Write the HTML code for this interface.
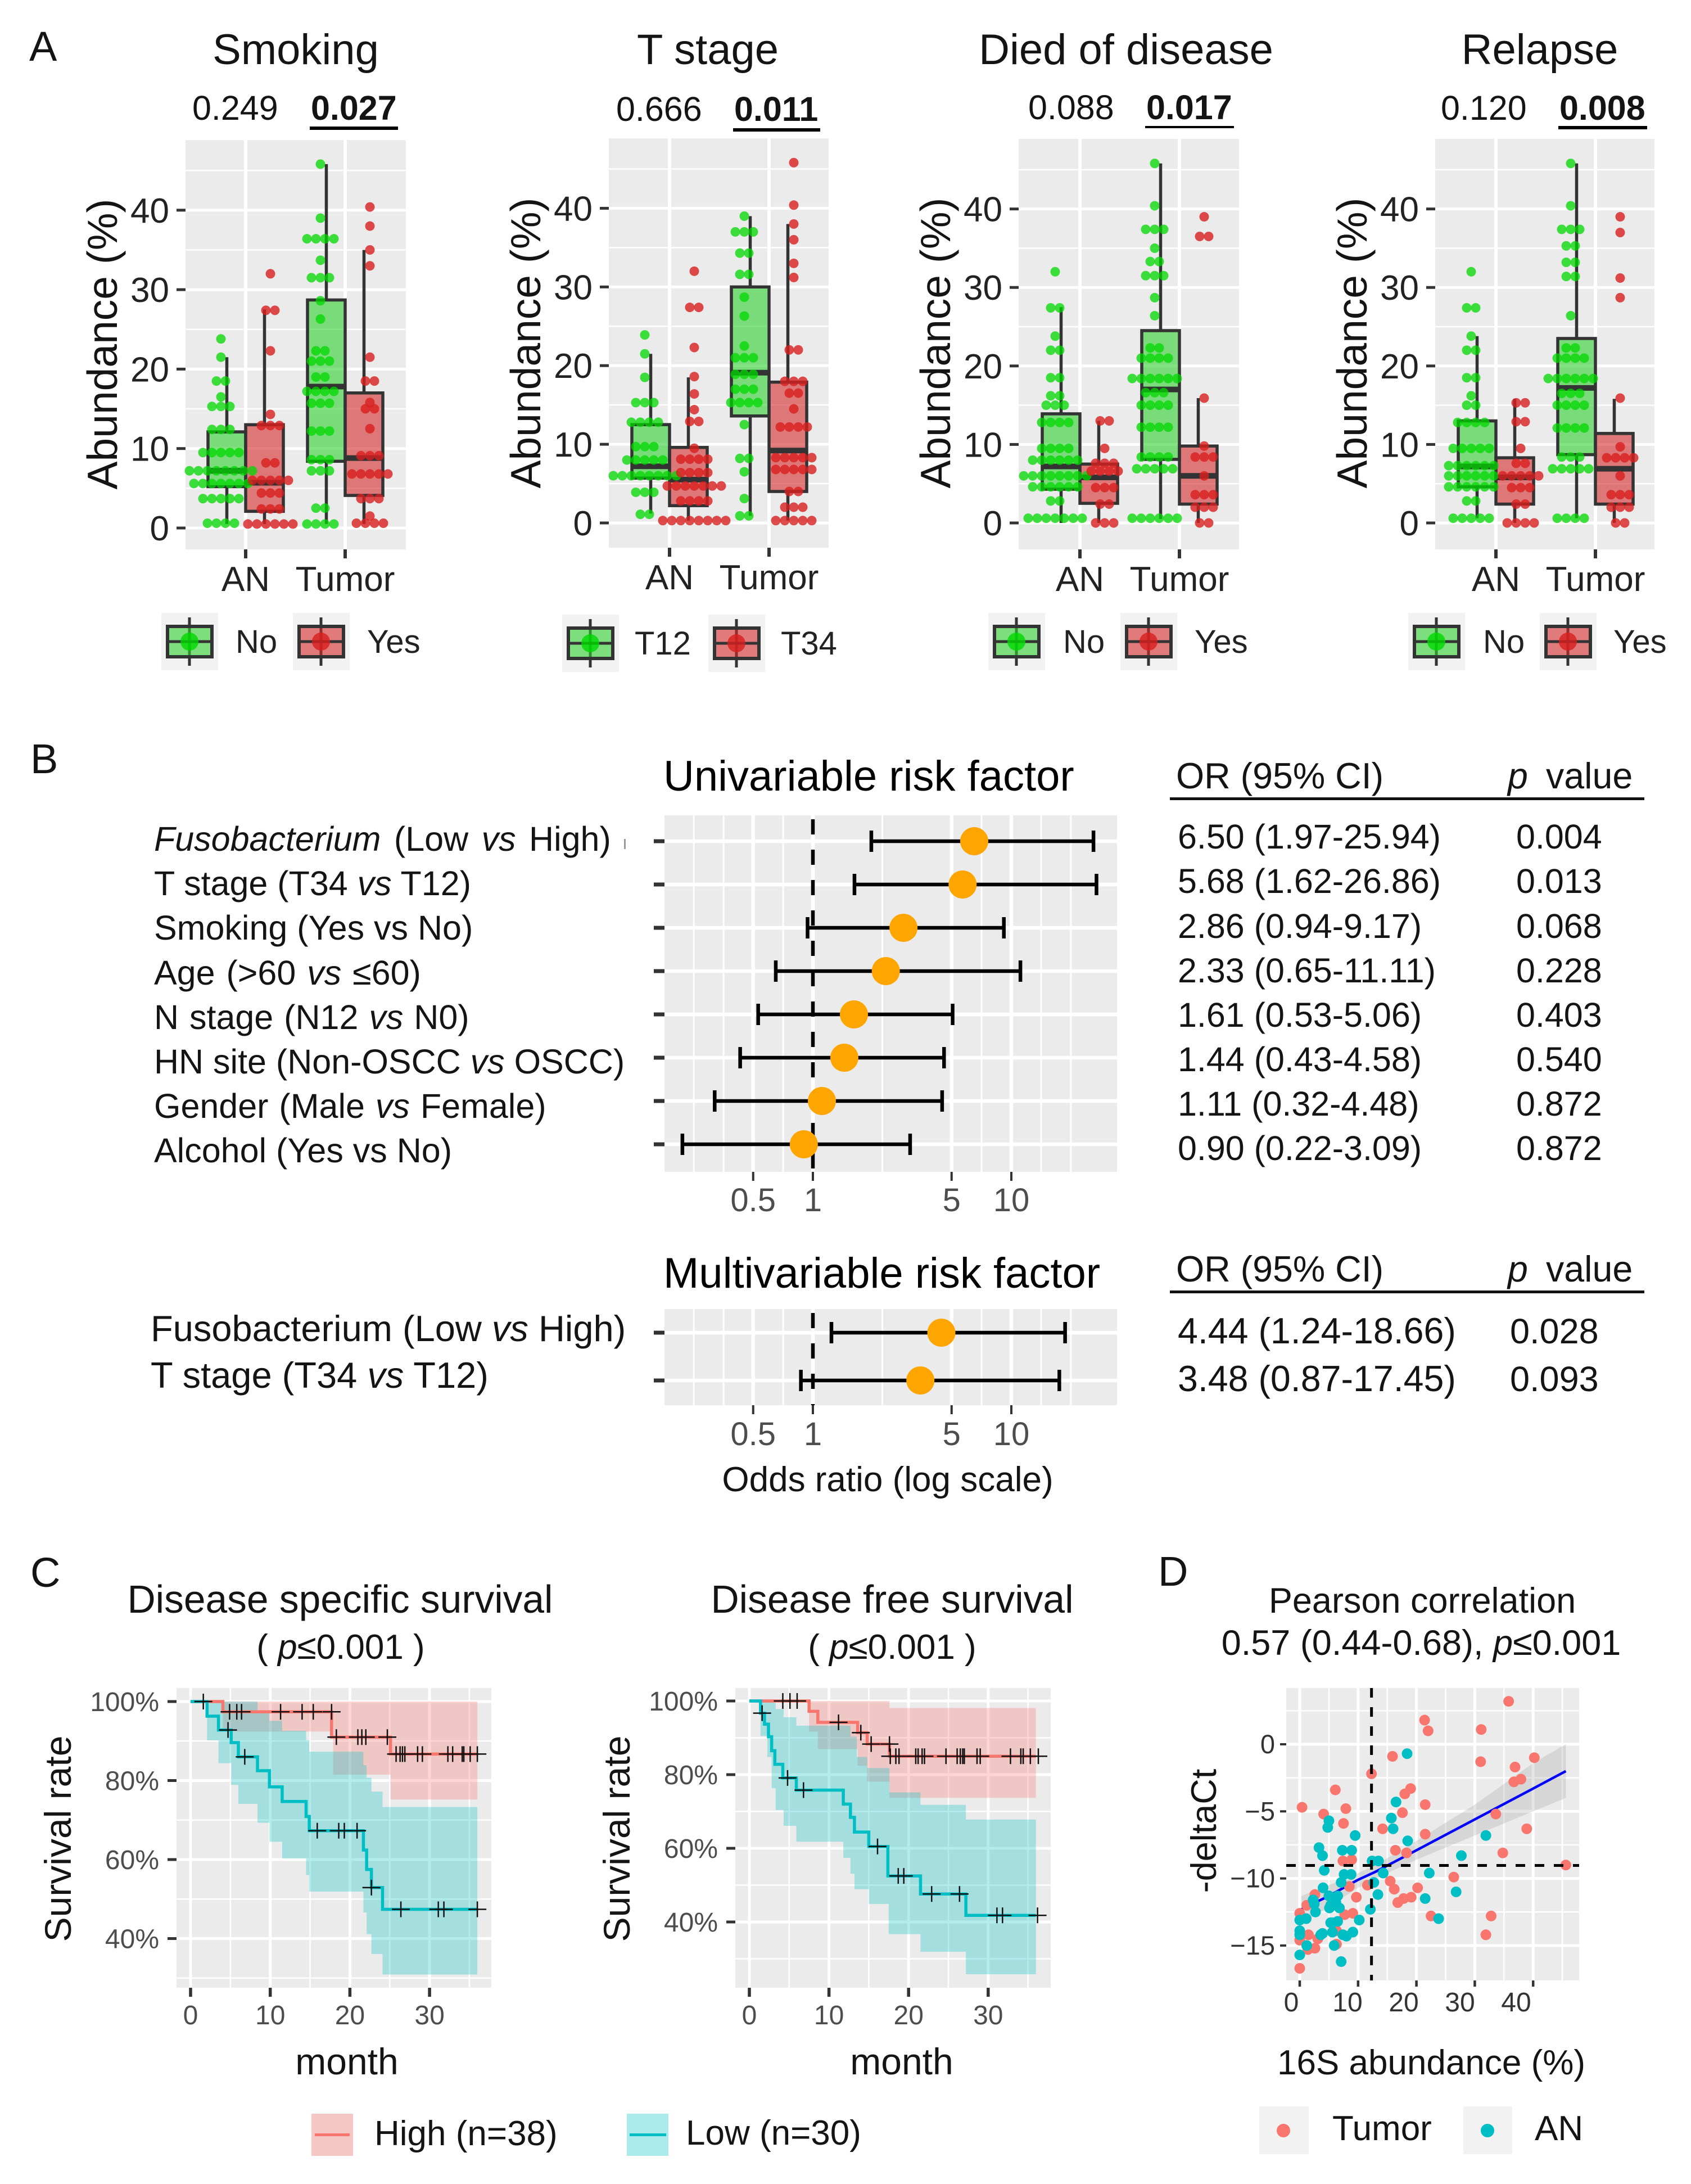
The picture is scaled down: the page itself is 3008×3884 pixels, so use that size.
<!DOCTYPE html>
<html lang="en">
<head>
<meta charset="utf-8">
<title>Fusobacterium abundance figure</title>
<style>
html,body{margin:0;padding:0;background:#fff;width:3008px;height:3884px;overflow:hidden}
svg{display:block}
text{font-family:"Liberation Sans",sans-serif;fill:#141414}
.pl{font-size:74px}
.t{font-size:76px;text-anchor:middle}
.pv{font-size:61px}
.b{font-weight:bold}
.lg{font-size:58px;fill:#222}
.f1{font-size:61px}
.f2{font-size:65px}
.h{font-size:76px;fill:#000}
.ci{font-size:62px}
.hd{font-size:64.5px}
.c{text-anchor:middle}
.km{font-size:69.5px;text-anchor:middle}
.ax{font-size:66px;text-anchor:middle}
.d{font-size:62px;text-anchor:middle}
.d2{font-size:63px;text-anchor:middle}
.it{font-style:italic}
</style>
</head>
<body>
<svg id="fig" xmlns="http://www.w3.org/2000/svg" width="3008" height="3884" viewBox="0 0 3008 3884">
<rect width="3008" height="3884" fill="#fff"/>

<text class="pl" x="52" y="108">A</text>
<text class="pl" x="54" y="1375">B</text>
<text class="pl" x="54" y="2822">C</text>
<text class="pl" x="2060" y="2820">D</text>

<text class="t" x="526" y="114">Smoking</text>
<text class="t" x="1259" y="114">T stage</text>
<text class="t" x="2003" y="114">Died of disease</text>
<text class="t" x="2739" y="114">Relapse</text>

<text class="pv" x="342" y="213">0.249</text>
<text class="pv b" x="553" y="213">0.027</text>
<rect x="551" y="225" width="157" height="6" fill="#000"/>
<text class="pv" x="1096" y="215">0.666</text>
<text class="pv b" x="1306" y="215">0.011</text>
<rect x="1304" y="228" width="155" height="6" fill="#000"/>
<text class="pv" x="1829" y="212">0.088</text>
<text class="pv b" x="2039" y="212">0.017</text>
<rect x="2037" y="224" width="158" height="4" fill="#000"/>
<text class="pv" x="2563" y="213">0.120</text>
<text class="pv b" x="2774" y="213">0.008</text>
<rect x="2772" y="224" width="158" height="6" fill="#000"/>

<text class="lg" x="419" y="1161">No</text>
<text class="lg" x="653" y="1161">Yes</text>
<text class="lg" x="1129" y="1164">T12</text>
<text class="lg" x="1389" y="1164">T34</text>
<text class="lg" x="1891" y="1161">No</text>
<text class="lg" x="2125" y="1161">Yes</text>
<text class="lg" x="2638" y="1161">No</text>
<text class="lg" x="2870" y="1161">Yes</text>

<text class="h" x="1180" y="1406">Univariable risk factor</text>
<text class="h" x="1180" y="2290">Multivariable risk factor</text>

<g class="f1">
<text class="f1" style="word-spacing:6.5px" x="274" y="1513"><tspan class="it">Fusobacterium</tspan> (Low <tspan class="it">vs</tspan> High)</text>
<text class="f1" x="274" y="1592">T stage (T34 <tspan class="it">vs</tspan> T12)</text>
<text class="f1" x="274" y="1671">Smoking (Yes vs No)</text>
<text class="f1" style="word-spacing:3px" x="274" y="1751">Age (&gt;60 <tspan class="it">vs</tspan> ≤60)</text>
<text class="f1" style="word-spacing:2px" x="274" y="1830">N stage (N12 <tspan class="it">vs</tspan> N0)</text>
<text class="f1" x="274" y="1909">HN site (Non-OSCC <tspan class="it">vs</tspan> OSCC)</text>
<text class="f1" style="word-spacing:2px" x="274" y="1988">Gender (Male <tspan class="it">vs</tspan> Female)</text>
<text class="f1" x="274" y="2067">Alcohol (Yes vs No)</text>
</g>
<rect x="1110" y="1492" width="3" height="18" fill="#999"/>
<text class="f2" x="268" y="2385">Fusobacterium (Low <tspan class="it">vs</tspan> High)</text>
<text class="f2" x="268" y="2468">T stage (T34 <tspan class="it">vs</tspan> T12)</text>

<text class="hd" x="2092" y="1402">OR (95% CI)</text>
<text class="hd" x="2682" y="1402"><tspan class="it">p</tspan><tspan x="2750">value</tspan></text>
<rect x="2081" y="1418" width="844" height="5" fill="#111"/>
<g>
<text class="f1" x="2095" y="1509">6.50 (1.97-25.94)</text><text class="f1" x="2697" y="1509">0.004</text>
<text class="f1" x="2095" y="1588">5.68 (1.62-26.86)</text><text class="f1" x="2697" y="1588">0.013</text>
<text class="f1" x="2095" y="1668">2.86 (0.94-9.17)</text><text class="f1" x="2697" y="1668">0.068</text>
<text class="f1" x="2095" y="1747">2.33 (0.65-11.11)</text><text class="f1" x="2697" y="1747">0.228</text>
<text class="f1" x="2095" y="1826">1.61 (0.53-5.06)</text><text class="f1" x="2697" y="1826">0.403</text>
<text class="f1" x="2095" y="1905">1.44 (0.43-4.58)</text><text class="f1" x="2697" y="1905">0.540</text>
<text class="f1" x="2095" y="1984">1.11 (0.32-4.48)</text><text class="f1" x="2697" y="1984">0.872</text>
<text class="f1" x="2095" y="2063">0.90 (0.22-3.09)</text><text class="f1" x="2697" y="2063">0.872</text>
</g>
<text class="hd" x="2092" y="2279">OR (95% CI)</text>
<text class="hd" x="2682" y="2279"><tspan class="it">p</tspan><tspan x="2750">value</tspan></text>
<rect x="2081" y="2295" width="844" height="5" fill="#111"/>
<text style="font-size:64.5px" x="2095" y="2389">4.44 (1.24-18.66)</text><text style="font-size:63px" x="2686" y="2389">0.028</text>
<text style="font-size:64.5px" x="2095" y="2474">3.48 (0.87-17.45)</text><text style="font-size:63px" x="2686" y="2474">0.093</text>
<text class="ci c" x="1579" y="2652">Odds ratio (log scale)</text>

<text class="km" x="605" y="2868">Disease specific survival</text>
<text class="d" x="606" y="2950">( <tspan class="it">p</tspan>≤0.001 )</text>
<text class="km" x="1587" y="2868">Disease free survival</text>
<text class="d" x="1587" y="2950">( <tspan class="it">p</tspan>≤0.001 )</text>
<text class="ax" transform="translate(126 3270) rotate(-90)">Survival rate</text>
<text class="ax" transform="translate(1120 3270) rotate(-90)">Survival rate</text>
<text class="ax" x="617" y="3689">month</text>
<text class="ax" x="1604" y="3689">month</text>

<g>
<rect x="554" y="3759" width="74" height="75" fill="#E8837C" fill-opacity="0.45"/>
<rect x="560" y="3794" width="62" height="5" fill="#F8766D"/>
<text class="ci" x="666" y="3815">High (n=38)</text>
</g>
<g>
<rect x="1115" y="3759" width="74" height="75" fill="#00BFC4" fill-opacity="0.33"/>
<rect x="1120" y="3794" width="65" height="5" fill="#00BFC4"/>
<text class="ci" x="1220" y="3814">Low (n=30)</text>
</g>

<text class="d2" x="2530" y="2868">Pearson correlation</text>
<text class="d2" x="2528" y="2943">0.57 (0.44-0.68), <tspan class="it">p</tspan>≤0.001</text>
<text class="d2" transform="translate(2163 3256) rotate(-90)">-deltaCt</text>
<text class="d" x="2546" y="3689">16S abundance (%)</text>
<g>
<rect x="2240" y="3746" width="88" height="85" fill="#F2F2F2"/>
<circle cx="2283" cy="3789" r="12" fill="#F8766D"/>
<text class="ci" x="2370" y="3806">Tumor</text>
<rect x="2603" y="3746" width="87" height="85" fill="#F2F2F2"/>
<circle cx="2646" cy="3789" r="12" fill="#00BFC4"/>
<text class="ci" x="2730" y="3806">AN</text>
</g>
</svg>

<script>
/* ---------- Panel A data: box stats are [low whisker, q1, median, q3, high whisker]; order AN-1, AN-2, Tumor-1, Tumor-2 ---------- */
const abundanceTicks = [0,10,20,30,40];
const abundanceMinor = [5,15,25,35,45];
const tissueLabels = ['AN','Tumor'];

const smokingBoxes = [[0.5,5.2,7.2,12.1,21.5],[0.5,2.1,5.7,13,27.5],[0.5,8.4,17.8,28.7,45.8],[0.5,4.1,8.8,17,35]];
const smokingAnNoDots = [[23.8,1],[21.5,1],[18.5,2],[16.5,1],[15.3,3],[12.4,3],[9.5,5],[7.2,8],[5.6,7],[3.7,5],[0.6,4]];
const smokingAnYesDots = [[32,1],[27.4,2],[22.3,1],[14.3,1],[12.9,3],[8.2,2],[6,5],[4.4,3],[2.4,3],[0.5,6]];
const smokingTumorNoDots = [[45.8,1],[39,1],[36.4,4],[33.7,1],[31.5,3],[28.6,1],[26.3,1],[22.3,2],[21,3],[19,2],[17.2,4],[15.7,3],[12.2,3],[8.6,3],[7.2,3],[2.5,2],[0.5,4]];
const smokingTumorYesDots = [[40.4,1],[38,1],[35,1],[33,1],[21.5,1],[18.5,2],[15.8,1],[15,2],[12.5,1],[9.1,3],[6.8,5],[3.7,3],[1.5,1],[0.6,4]];

const tStageBoxes = [[1.2,5.7,7.2,12.5,21.5],[0.3,2.2,5.5,9.6,18.5],[0.9,13.6,19.1,30,39],[0.3,4,9.2,17.9,38]];
const tStageAnT12Dots = [[23.9,1],[21.5,1],[18.5,1],[15.3,3],[12.8,4],[9.7,3],[8,5],[6,8],[3.9,3],[1.1,2]];
const tStageAnT34Dots = [[32,1],[27.4,2],[22.3,1],[18.6,1],[16.4,1],[14.4,1],[12.9,2],[9.5,1],[8.1,4],[6.4,4],[4.7,7],[2.8,4],[0.3,8]];
const tStageTumorT12Dots = [[39,1],[37,3],[34.3,2],[31.6,2],[28.7,1],[26.3,1],[22.5,1],[21,3],[18.9,3],[17,3],[15.3,4],[12.5,1],[8.2,2],[6.5,1],[3.1,1],[0.9,2]];
const tStageTumorT34Dots = [[45.8,1],[40.4,1],[38,1],[36,1],[33,1],[31.2,1],[22,2],[18,3],[16.5,2],[14.5,1],[12.2,4],[8.3,5],[6.8,5],[4,2],[2,3],[0.3,5]];

const diedBoxes = [[0,4.3,7.2,13.9,27.5],[0,2.5,5.8,7.5,13],[0.5,8.1,17,24.5,45.8],[0,2.4,6,9.8,15.9]];
const diedAnNoDots = [[32,1],[27.4,2],[23.8,1],[22,2],[18.5,2],[16.2,2],[15,3],[12.8,4],[9.5,4],[8,6],[6,8],[4.6,6],[2.8,2],[0.6,7]];
const diedAnYesDots = [[13,2],[9.5,1],[7.6,3],[6.6,4],[4.5,3],[2.4,2],[0,3]];
const diedTumorNoDots = [[45.8,1],[40.4,1],[37.4,3],[35,1],[33.3,2],[31.5,3],[28.7,1],[26.4,1],[22.3,2],[21,4],[18.4,6],[16.6,3],[15,4],[12.2,4],[8.4,4],[6.9,5],[0.6,6]];
const diedTumorYesDots = [[39,1],[36.5,2],[15.9,1],[9.8,1],[8.4,3],[6,1],[3.6,3],[2,3],[0,2]];

const relapseBoxes = [[0.6,4.6,7.2,13,23.8],[0,2.4,5.8,8.3,15.8],[0.6,8.7,17.2,23.5,45.8],[0,2.4,6.9,11.4,15.8]];
const relapseAnNoDots = [[32,1],[27.4,2],[23.8,1],[22,2],[18.5,2],[16.2,1],[15,2],[12.8,4],[9.5,5],[7.3,6],[6,6],[4.6,6],[2.8,2],[0.6,5]];
const relapseAnYesDots = [[15.3,2],[12.9,2],[9.5,1],[7.6,2],[6,5],[4.5,3],[2.4,2],[0,4]];
const relapseTumorNoDots = [[45.8,1],[40.4,1],[37.4,3],[35.3,2],[33.2,2],[31.4,2],[26.4,1],[22.3,2],[21,4],[18.4,6],[16.5,3],[15,4],[12.1,4],[8.4,3],[6.9,5],[0.6,4]];
const relapseTumorYesDots = [[39,1],[37,1],[31.2,1],[28.7,1],[15.9,1],[9.7,1],[8.3,4],[6,1],[3.6,3],[2,3],[0,2]];

/* ---------- Panel B data ---------- */
const oddsTicks = [0.5,1,5,10];
const oddsMinorLog = [-0.6,-0.45,-0.15,0.35,0.85,1.15,1.3];
const uniOR = [6.5,5.68,2.86,2.33,1.61,1.44,1.11,0.9];
const uniLow = [1.97,1.62,0.94,0.65,0.53,0.43,0.32,0.22];
const uniHigh = [25.94,26.86,9.17,11.11,5.06,4.58,4.48,3.09];
const multiOR = [4.44,3.48];
const multiLow = [1.24,0.87];
const multiHigh = [18.66,17.45];

/* ---------- Panel C data ---------- */
const monthTicks = [0,10,20,30];
const monthMinor = [5,15,25,35];
const survivalTicks = [100,80,60,40];
const survivalMinor = [90,70,50,30];

const dssHighTimes = [0,4.05,17.7,25.1];
const dssHighSurv = [100,97.4,91,86.7];
const dssHighUpperTimes = [4.05];
const dssHighUpper = [100];
const dssHighLowerTimes = [4.05,17.9,25.1];
const dssHighLower = [92.4,81.5,75.2];
const dssHighCensorTimes = [1.6,4.9,5.8,6.4,11.3,14,15.4,17.7,18.3,21,21.5,22,24.7,25.8,26.3,26.6,26.9,28.5,29.1,32.3,32.9,34.1,34.3,35.1,36];
const dssHighCensorSurv = [100,97.4,97.4,97.4,97.4,97.4,97.4,97.4,91,91,91,91,91,86.7,86.7,86.7,86.7,86.7,86.7,86.7,86.7,86.7,86.7,86.7,86.7];
const dssLowTimes = [0,2.07,3.5,5.1,6,8.4,9.9,11.5,14.5,14.9,21.7,22.1,22.7,24.1];
const dssLowSurv = [100,96.3,92.8,89.6,86,82.5,78.4,74.7,70.9,67.3,62.4,57.5,52.9,47.4];
const dssLowUpperTimes = [2.07,8.4,9.9,11.5,14.5,14.9,21.7,22.1,22.7,24.1];
const dssLowUpper = [100,97.4,95.1,92.6,90.2,87.3,83.9,80.7,77.2,73.3];
const dssLowLowerTimes = [2.07,3.5,5.1,6,8.4,9.9,11.5,14.5,14.9,21.7,22.1,22.7,24.1];
const dssLowLower = [90.2,84.4,78.9,74.1,69.3,64.5,60.3,56.1,51.9,46.6,41.1,36.1,30.9];
const dssLowCensorTimes = [4.7,6.8,15.9,18.6,19.3,20.9,22.7,26.4,31.1,31.8,36];
const dssLowCensorSurv = [92.8,86,67.3,67.3,67.3,67.3,52.9,47.4,47.4,47.4,47.4];

const dfsHighTimes = [0,7.5,8.6,13.6,14.8,17.6];
const dfsHighSurv = [100,97.2,94.2,91.4,88.3,85];
const dfsHighUpperTimes = [7.5,17.6];
const dfsHighUpper = [100,98.1];
const dfsHighLowerTimes = [7.5,8.6,13.6,14.8,17.6];
const dfsHighLower = [91.7,86.9,82.4,78.1,73.7];
const dfsHighCensorTimes = [4.2,5.1,6,11.2,14,15.3,17.6,17.7,18.4,18.8,20.9,21.2,21.7,22,24.7,26.1,26.5,26.8,27,28.6,29,32.8,34.1,34.4,35.3,36.3];
const dfsHighCensorSurv = [100,100,100,94.2,91.4,88.3,88.3,85,85,85,85,85,85,85,85,85,85,85,85,85,85,85,85,85,85,85];
const dfsLowTimes = [0,1.4,1.9,2.4,2.8,3.2,4.2,5.9,11.8,12.7,13.2,15,17.4,21.5,27.2];
const dfsLowSurv = [100,96.7,93.7,90.3,86.5,82.8,79.1,75.8,72,68.4,64.4,60.5,52.5,47.6,41.8];
const dfsLowUpperTimes = [1.4,3.3,4.3,5.9,12.7,13.5,14.8,17.6,21.5,27.2];
const dfsLowUpper = [100,97.8,95.6,93.3,90.3,84.8,81.8,75.2,71.8,67.8];
const dfsLowLowerTimes = [1.4,2.25,2.8,3.3,4.3,5.9,11.8,12.7,13.2,15,17.5,21.5,27.2];
const dfsLowLower = [90.5,84.8,76.3,70.4,66.1,61.8,57.4,53.1,48.9,44.9,36.7,31.9,25.8];
const dfsLowCensorTimes = [1.6,4.8,6.8,16.1,18.7,19.4,22.9,26.4,31.1,31.8,36.2];
const dfsLowCensorSurv = [96.7,79.1,75.8,60.5,52.5,52.5,47.6,47.6,41.8,41.8,41.8];

/* ---------- Panel D data ---------- */
const scatterXTicks = [0,10,20,30,40];
const scatterXMinor = [5,15,25,35,45];
const scatterYTicks = [0,-5,-10,-15];
const scatterYTickLabels = ['0','\u22125','\u221210','\u221215'];
const scatterYMinor = [2.5,-2.5,-7.5,-12.5];
const tumorAbundance = [35.8,21.4,22.0,31.1,15.9,40.2,31.0,36.9,12.3,37.9,36.7,19.0,6.1,18.0,7.9,21.5,0.4,17.6,4.1,33.6,7.5,14.2,38.9,21.5,16.4,34.8,18.3,7.4,8.9,45.6,26.4,15.5,11.6,8.5,20.2,16.2,2.6,9.7,19.1,17.8,16.8,1.2,22.5,32.8,9.1,7.7,0,31.9,1.5,3.1,0,6.3,1.4,2.6,0,6.3];
const tumorDeltaCt = [3.2,1.8,1.0,1.1,-0.9,-1.0,-1.3,-1.7,-2.2,-2.6,-2.8,-3.3,-3.4,-3.7,-4.8,-4.5,-4.7,-5.1,-5.2,-5.2,-5.9,-6.3,-6.3,-6.7,-7.9,-8.1,-8.1,-8.7,-8.6,-9.0,-9.9,-10.2,-10.5,-10.6,-10.7,-10.8,-11.2,-11.4,-11.4,-11.5,-11.8,-12.0,-12.8,-12.8,-12.6,-12.7,-12.6,-14.2,-14.2,-14.5,-14.6,-14.9,-15.3,-15.2,-16.7,-13.9];
const anAbundance = [18.4,16.5,15.7,5.0,4.8,16.0,9.5,31.9,18.5,3.3,7.3,8.9,3.9,27.7,13.5,12.4,4.2,14.3,22.2,7.6,8.8,7.1,12.7,4.0,26.8,13.4,5.0,6.5,5.6,21.5,2.3,2.5,5.3,6.2,6.8,5.1,12.1,2.7,23.8,10.2,1.1,0,6.5,5.6,5.3,0,3.9,5.6,9.1,7.4,8.0,3.6,0,5.9,1.2,0,7.1];
const anDeltaCt = [-0.7,-4.3,-5.5,-5.7,-6.2,-6.3,-6.8,-6.8,-7.2,-7.7,-7.9,-7.9,-8.3,-8.3,-8.7,-8.7,-9.4,-9.6,-9.6,-9.7,-9.7,-10.3,-10.3,-10.7,-11.0,-11.2,-11.3,-11.3,-11.5,-11.5,-11.6,-11.9,-12.0,-11.8,-12.2,-12.2,-12.3,-12.5,-13.0,-13.1,-13.0,-13.1,-13.2,-13.3,-13.3,-13.9,-14.1,-14.0,-14.0,-14.2,-14.3,-14.2,-14.2,-15.0,-15.0,-15.7,-16.2];
const fitAbundance = [0.3,5,10,13,20,30,40,45.6];
const fitDeltaCt = [-12.3,-11.3,-10.1,-9.5,-7.9,-5.6,-3.3,-2.0];
const fitUpper = [-11.3,-10.5,-9.6,-9.0,-7.2,-4.5,-1.4,0.0];
const fitLower = [-13.4,-12.1,-10.7,-10.0,-8.6,-6.8,-5.0,-4.0];
const abundanceCutoff = [12.3];
const deltaCtCutoff = [-9.03];

/* ---------- drawing helpers ---------- */
const NS = 'http://www.w3.org/2000/svg';
const fig = document.getElementById('fig');
function mk(tag, attrs, parent) {
  const el = document.createElementNS(NS, tag);
  for (const k in attrs) el.setAttribute(k, attrs[k]);
  parent.appendChild(el);
  return el;
}
function label(parent, x, y, str, size, fill, anchor) {
  const el = mk('text', {x:x, y:y, 'font-size':size, 'text-anchor':anchor, style:'fill:'+fill}, parent);
  el.textContent = str;
  return el;
}
function hline(parent, x1, x2, y, w, c) { return mk('line', {x1:x1, x2:x2, y1:y, y2:y, stroke:c, 'stroke-width':w}, parent); }
function vline(parent, x, y1, y2, w, c) { return mk('line', {x1:x, x2:x, y1:y1, y2:y2, stroke:c, 'stroke-width':w}, parent); }

const BOXGREEN = '#2DD12D', BOXRED = '#D62A2A', DOTGREEN = '#00D800', DOTRED = '#D81E1E', INK = '#333333';

function drawBoxPanel(cfg) {
  const g = mk('g', {}, fig);
  
  
  const y = v => cfg.y0 - v * cfg.unit;
  const bg = mk('rect', {x:cfg.x, y:cfg.top, width:cfg.w, height:cfg.bottom-cfg.top, fill:'#EBEBEB'}, g);
  
  
  abundanceMinor.forEach(v => {
    const l = hline(g, cfg.x, cfg.x+cfg.w, y(v), 2.5, '#fff');
    
    
  });
  abundanceTicks.forEach(v => {
    const l = hline(g, cfg.x, cfg.x+cfg.w, y(v), 5, '#fff');
    
    
    const t = hline(g, cfg.x-16, cfg.x, y(v), 5, INK);
    
    
    const s = label(g, cfg.x-29, y(v)+22, String(v), 62, '#222', 'end');
    
    
  });
  const ticks = [cfg.an, cfg.tumor];
  ticks.forEach((tx, i) => {
    const l = vline(g, tx, cfg.top, cfg.bottom, 6, '#fff');
    
    
    const t = vline(g, tx, cfg.bottom, cfg.bottom+16, 6, INK);
    
    
    const s = label(g, tx, cfg.bottom+74, tissueLabels[i], 62, '#222', 'middle');
    
    
  });
  const yt = label(g, 0, 0, 'Abundance (%)', 75, '#141414', 'middle');
  yt.setAttribute('transform', 'translate(' + (cfg.x-122) + ' ' + (cfg.titleY) + ') rotate(-90)');
  
  

  cfg.boxes.forEach((b, i) => {
    const tx = ticks[i < 2 ? 0 : 1];
    const side = i % 2 === 0 ? -1 : 1;
    const bx = tx + side * 33.5;
    const color = side < 0 ? BOXGREEN : BOXRED;
    const fill = mk('rect', {x:bx-33.5, y:y(b[3]), width:67, height:y(b[1])-y(b[3]), fill:color, 'fill-opacity':0.6}, g);
    
    
    const w1 = vline(g, bx, y(b[4]), y(b[3]), 5.5, INK);
    
    
    const w2 = vline(g, bx, y(b[1]), y(b[0]), 5.5, INK);
    
    
    const o = mk('rect', {x:bx-33.5, y:y(b[3]), width:67, height:y(b[1])-y(b[3]), fill:'none', stroke:INK, 'stroke-width':5.5}, g);
    
    
    const m = hline(g, bx-33.5, bx+33.5, y(b[2]), 10, INK);
    
    
  });
  cfg.boxes.forEach((b, i) => {
    const tx = ticks[i < 2 ? 0 : 1];
    const side = i % 2 === 0 ? -1 : 1;
    const dotX = tx + side * 44;
    const color = side < 0 ? DOTGREEN : DOTRED;
    cfg.dots[i].forEach(row => {
      for (let k = 0; k < row[1]; k++) {
        const c = mk('circle', {cx:dotX + (k-(row[1]-1)/2)*16, cy:y(row[0]), r:8.5, fill:color, 'fill-opacity':side < 0 ? 0.75 : 0.8}, g);
        
        
      }
    });
  });

  cfg.legend.forEach((kx, i) => {
    const ky = cfg.legendY;
    const k = mk('g', {}, g);
    
    
    mk('rect', {x:kx, y:ky-51, width:101, height:102, fill:'#F2F2F2'}, k);
    mk('line', {x1:kx+50, x2:kx+50, y1:ky-43, y2:ky+43, stroke:INK, 'stroke-width':5}, k);
    mk('rect', {x:kx+11, y:ky-27, width:79, height:54, fill:i === 0 ? BOXGREEN : BOXRED, 'fill-opacity':0.6, stroke:INK, 'stroke-width':6}, k);
    mk('line', {x1:kx+11, x2:kx+90, y1:ky, y2:ky, stroke:INK, 'stroke-width':5}, k);
    mk('circle', {cx:kx+50, cy:ky, r:16, fill:i === 0 ? DOTGREEN : DOTRED, 'fill-opacity':0.8}, k);
  });
}

drawBoxPanel({name:'smoking', x:330, w:392, top:249, bottom:977, y0:939, unit:14.13, an:437, tumor:614, titleY:612, legend:[287,521], legendY:1141,
  boxes:smokingBoxes, dots:[smokingAnNoDots,smokingAnYesDots,smokingTumorNoDots,smokingTumorYesDots]});
drawBoxPanel({name:'t-stage', x:1083, w:391, top:246, bottom:974, y0:930, unit:13.99, an:1191, tumor:1368, titleY:610, legend:[1000,1260], legendY:1144,
  boxes:tStageBoxes, dots:[tStageAnT12Dots,tStageAnT34Dots,tStageTumorT12Dots,tStageTumorT34Dots]});
drawBoxPanel({name:'died-of-disease', x:1812, w:392, top:247, bottom:977, y0:930, unit:13.96, an:1921, tumor:2098, titleY:610, legend:[1758,1993], legendY:1141,
  boxes:diedBoxes, dots:[diedAnNoDots,diedAnYesDots,diedTumorNoDots,diedTumorYesDots]});
drawBoxPanel({name:'relapse', x:2553, w:390, top:247, bottom:977, y0:930, unit:13.96, an:2661, tumor:2838, titleY:610, legend:[2505,2739], legendY:1141,
  boxes:relapseBoxes, dots:[relapseAnNoDots,relapseAnYesDots,relapseTumorNoDots,relapseTumorYesDots]});

function drawForest(cfg, or, low, high) {
  const g = mk('g', {}, fig);
  
  
  const x = v => 1446 + 353 * Math.log10(v);
  const xl = v => 1446 + 353 * v;
  const rowY = i => cfg.first + i * cfg.step;
  const bg = mk('rect', {x:1182, y:cfg.top, width:805, height:cfg.bottom-cfg.top, fill:'#EBEBEB'}, g);
  
  
  oddsMinorLog.forEach(v => {
    const l = vline(g, xl(v), cfg.top, cfg.bottom, 3, '#fff');
    
    
  });
  oddsTicks.forEach(v => {
    const l = vline(g, x(v), cfg.top, cfg.bottom, 6.5, '#fff');
    
    
    const t = vline(g, x(v), cfg.bottom, cfg.bottom+16, 4, '#333');
    
    
    const s = label(g, x(v), cfg.labelY, String(v), 58, '#4D4D4D', 'middle');
    
    
  });
  or.forEach((v, i) => {
    const l = hline(g, 1182, 1987, rowY(i), 6.5, '#fff');
    
    
    const t = hline(g, 1163, 1182, rowY(i), 7, '#333');
    
    
  });
  const d = vline(g, x(1), cfg.top+7, cfg.bottom, 6.5, '#000');
  d.setAttribute('stroke-dasharray', '27 27');
  
  
  or.forEach((v, i) => {
    const ci = hline(g, x(low[i]), x(high[i]), rowY(i), 6.5, '#000');
    
    
    const c1 = vline(g, x(low[i]), rowY(i)-19, rowY(i)+19, 6.5, '#000');
    
    
    const c2 = vline(g, x(high[i]), rowY(i)-19, rowY(i)+19, 6.5, '#000');
    
    
    const p = mk('circle', {cx:x(v), cy:rowY(i), r:25, fill:'#FFA500'}, g);
    
    
  });
}
drawForest({name:'univariable', top:1450, bottom:2084, first:1496, step:77, labelY:2154}, uniOR, uniLow, uniHigh);
drawForest({name:'multivariable', top:2328, bottom:2499, first:2370, step:85, labelY:2570}, multiOR, multiLow, multiHigh);

function stepPoints(times, vals, end, x, y) {
  const pts = [];
  times.forEach((t, i) => {
    const next = i + 1 < times.length ? times[i+1] : end;
    pts.push([x(t), y(vals[i])]);
    pts.push([x(next), y(vals[i])]);
  });
  return pts;
}
function drawRibbon(g, upT, up, loT, lo, end, x, y, color, nm) {
  const a = stepPoints(upT, up, end, x, y);
  const b = stepPoints(loT, lo, end, x, y).reverse();
  const r = mk('polygon', {points:a.concat(b).map(p => p.join(',')).join(' '), fill:color, 'fill-opacity':0.3}, g);
  
  
}
function drawCurve(g, times, vals, end, x, y, color, nm) {
  const p = mk('polyline', {points:stepPoints(times, vals, end, x, y).map(q => q.join(',')).join(' '), fill:'none', stroke:color, 'stroke-width':5.5}, g);
  
  
}
function drawCensors(g, times, vals, x, y) {
  times.forEach((t, i) => {
    const h = hline(g, x(t)-16, x(t)+16, y(vals[i]), 2.5, '#111');
    
    
    const v = vline(g, x(t), y(vals[i])-14, y(vals[i])+14, 2.5, '#111');
    
    
  });
}
function drawKM(cfg, d) {
  const g = mk('g', {}, fig);
  
  
  const x = t => cfg.x0 + t * cfg.xu;
  const y = s => cfg.y100 + (100 - s) * cfg.yu;
  const bg = mk('rect', {x:cfg.left, y:3002, width:cfg.w, height:533, fill:'#EBEBEB'}, g);
  
  
  monthMinor.forEach(v => {
    const l = vline(g, x(v), 3002, 3535, 2.5, '#fff');
    
    
  });
  survivalMinor.forEach(v => {
    const l = hline(g, cfg.left, cfg.left+cfg.w, y(v), 2.5, '#fff');
    
    
  });
  monthTicks.forEach(v => {
    const l = vline(g, x(v), 3002, 3535, 5, '#fff');
    
    
    const t = vline(g, x(v), 3535, 3551, 5.5, '#333');
    
    
    const s = label(g, x(v), 3600, String(v), 48, '#4D4D4D', 'middle');
    
    
  });
  survivalTicks.forEach(v => {
    const l = hline(g, cfg.left, cfg.left+cfg.w, y(v), 5, '#fff');
    
    
    const t = hline(g, cfg.left-16, cfg.left, y(v), 5, '#333');
    
    
    const s = label(g, cfg.left-31, y(v)+17, v + '%', 48, '#4D4D4D', 'end');
    
    
  });
  const hi = '#F8766D', lo = '#00BFC4';
  drawRibbon(g, d.hut, d.hu, d.hlt, d.hl, 36, x, y, hi, 'high-confidence-band');
  drawRibbon(g, d.lut, d.lu, d.llt, d.ll, 36, x, y, lo, 'low-confidence-band');
  drawCurve(g, d.ht, d.hs, 36, x, y, hi, 'high-survival-curve');
  drawCurve(g, d.lt, d.ls, 36, x, y, lo, 'low-survival-curve');
  drawCensors(g, d.hct, d.hcs, x, y);
  drawCensors(g, d.lct, d.lcs, x, y);
}
drawKM({name:'disease-specific', left:314, w:560, x0:339, xu:14.17, y100:3026, yu:7.025}, {
  ht:dssHighTimes, hs:dssHighSurv, hut:dssHighUpperTimes, hu:dssHighUpper, hlt:dssHighLowerTimes, hl:dssHighLower, hct:dssHighCensorTimes, hcs:dssHighCensorSurv,
  lt:dssLowTimes, ls:dssLowSurv, lut:dssLowUpperTimes, lu:dssLowUpper, llt:dssLowLowerTimes, ll:dssLowLower, lct:dssLowCensorTimes, lcs:dssLowCensorSurv});
drawKM({name:'disease-free', left:1308, w:561, x0:1333, xu:14.16, y100:3025, yu:6.55}, {
  ht:dfsHighTimes, hs:dfsHighSurv, hut:dfsHighUpperTimes, hu:dfsHighUpper, hlt:dfsHighLowerTimes, hl:dfsHighLower, hct:dfsHighCensorTimes, hcs:dfsHighCensorSurv,
  lt:dfsLowTimes, ls:dfsLowSurv, lut:dfsLowUpperTimes, lu:dfsLowUpper, llt:dfsLowLowerTimes, ll:dfsLowLower, lct:dfsLowCensorTimes, lcs:dfsLowCensorSurv});

(function drawScatter() {
  const g = mk('g', {}, fig);
  
  
  const L = 2288, R = 2809, T = 3002, B = 3522;
  const x = v => 2312 + v * 10.38;
  const y = v => 3102 - v * 23.86;
  const labelX = v => 2297 + v * 10;
  const bg = mk('rect', {x:L, y:T, width:R-L, height:B-T, fill:'#EBEBEB'}, g);
  
  
  scatterXMinor.forEach(v => {
    const l = vline(g, x(v), T, B, 2.5, '#fff');
    
    
  });
  scatterYMinor.forEach(v => {
    const l = hline(g, L, R, y(v), 2.5, '#fff');
    
    
  });
  scatterXTicks.forEach(v => {
    const l = vline(g, x(v), T, B, 5, '#fff');
    
    
    const t = vline(g, x(v), B, B+11, 4.5, '#333');
    
    
    const s = label(g, labelX(v), 3577, String(v), 48, '#333', 'middle');
    
    
  });
  scatterYTicks.forEach((v, i) => {
    const l = hline(g, L, R, y(v), 5, '#fff');
    
    
    const t = hline(g, L-11, L, y(v), 4, '#333');
    
    
    const s = label(g, L-20, y(v)+16, scatterYTickLabels[i], 47, '#333', 'end');
    
    
  });
  const up = fitAbundance.map((v, i) => x(v) + ',' + y(fitUpper[i]));
  const lo = fitAbundance.map((v, i) => x(v) + ',' + y(fitLower[i])).reverse();
  const rib = mk('polygon', {points:up.concat(lo).join(' '), fill:'#999999', 'fill-opacity':0.25}, g);
  
  
  const fit = mk('polyline', {points:fitAbundance.map((v, i) => x(v) + ',' + y(fitDeltaCt[i])).join(' '), fill:'none', stroke:'#0000FF', 'stroke-width':4.5}, g);
  
  
  tumorAbundance.forEach((v, i) => {
    const p = mk('circle', {cx:x(v), cy:y(tumorDeltaCt[i]), r:9.5, fill:'#F8766D'}, g);
    
    
  });
  anAbundance.forEach((v, i) => {
    const p = mk('circle', {cx:x(v), cy:y(anDeltaCt[i]), r:9.5, fill:'#00BFC4'}, g);
    
    
  });
  const dv = vline(g, x(abundanceCutoff[0]), T, B, 5, '#000');
  dv.setAttribute('stroke-dasharray', '17 17');
  
  
  const dh = hline(g, L, R, y(deltaCtCutoff[0]), 5, '#000');
  dh.setAttribute('stroke-dasharray', '17 17');
  
  
})();
</script>
</body>
</html>
